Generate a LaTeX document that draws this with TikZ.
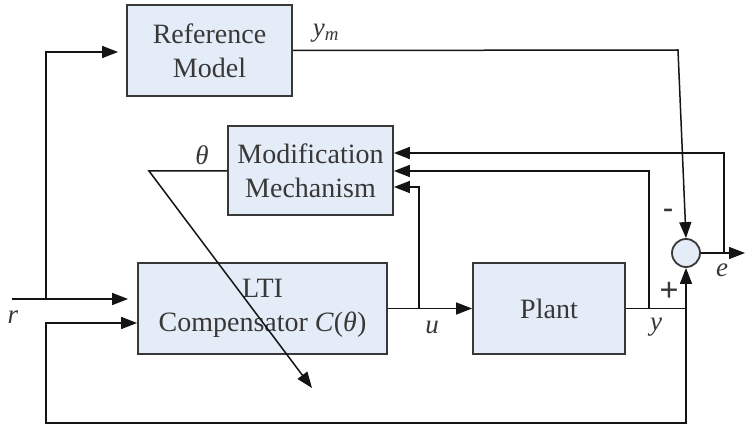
\documentclass[tikz,border=0pt]{standalone}
\usepackage{fontspec}
\setmainfont{Liberation Serif}
\usepackage{tikz}
\usetikzlibrary{arrows.meta,positioning,calc}
\definecolor{boxblue}{HTML}{E4ECF7}
\definecolor{edge}{HTML}{383838}
\definecolor{wire}{HTML}{141414}
\tikzset{blk/.style={draw=edge,line width=1.8pt,fill=boxblue,align=center,font=\fontsize{28}{34}\selectfont,text=edge,inner sep=0pt},arr/.style={-{Triangle[length=16pt,width=12pt]},line width=1.5pt,draw=wire},wire/.style={line width=1.5pt,draw=wire},lbl/.style={font=\fontsize{27}{32}\selectfont\itshape,text=edge,inner sep=0pt}}

\begin{document}
\begin{tikzpicture}[x=1pt,y=-1pt]
\useasboundingbox (0,0) rectangle (745,425);
\node[blk,minimum width=165pt,minimum height=91pt] (refm) at (209.5,50.5) {Reference\\Model};
\node[blk,minimum width=165pt,minimum height=89pt] (modm) at (310.5,170.5) {Modification\\Mechanism};
\node[blk,minimum width=249pt,minimum height=91pt] (lti) at (262.5,308.5) {LTI\\Compensator \textit{C}(\textit{θ})};
\node[blk,minimum width=152pt,minimum height=91pt] (plant) at (549,308.5) {Plant};
\node[draw=edge,line width=1.8pt,fill=boxblue,circle,minimum size=28pt,inner sep=0pt] (sum) at (686,253) {};
\coordinate (rin) at (12,299);
\coordinate (rbr) at (46,299);
\coordinate (ymc) at (678,50);
\coordinate (uj) at (419,308.5);
\coordinate (yj) at (649,308.5);
\coordinate (fbj) at (686,308.5);
\coordinate (ej) at (724,253);
\coordinate (eout) at (745,253);
\coordinate (thc) at (149,171);
\coordinate (thend) at (312,388);
\draw[arr,shorten >=9pt] (rin) -- (lti.west |- rin);
\draw[arr,shorten >=8pt] (rbr) -- (46,52) -- (refm.west |- 0,52);
\draw[arr] (refm.east) -- (ymc) -- (sum.north);
\draw[arr] (lti.east) -- (plant.west);
\draw[wire] (plant.east) -- (fbj);
\draw[arr] (fbj) -- (sum.south);
\draw[arr] (fbj) -- (686,423) -- (46,423) -- (46,323) -- (lti.west |- 0,323);
\draw[arr] (uj) -- (419,187) -- (modm.east |- 0,187);
\draw[arr] (yj) -- (649,171) -- (modm.east |- 0,171);
\draw[arr] (sum.east) -- (eout);
\draw[arr] (ej) -- (724,153) -- (modm.east |- 0,153);
\draw[arr] (modm.west |- thc) -- (thc) -- (thend);
\node[lbl] (lym) at (326,33) {y\textsubscript{m}};
\node[lbl] (lth) at (202,155) {θ};
\node[lbl] (lr) at (13,317) {r};
\node[lbl] (lu) at (432,327) {u};
\node[lbl] (ly) at (656,327) {y};
\node[lbl] (le) at (722,270) {e};
\node[font=\fontsize{34}{36}\selectfont\bfseries,text=edge,inner sep=0pt] (lplus) at (669,292) {+};
\node[font=\fontsize{30}{32}\selectfont\bfseries,text=edge,inner sep=0pt] (lminus) at (668,213) {-};
\end{tikzpicture}
\end{document}
